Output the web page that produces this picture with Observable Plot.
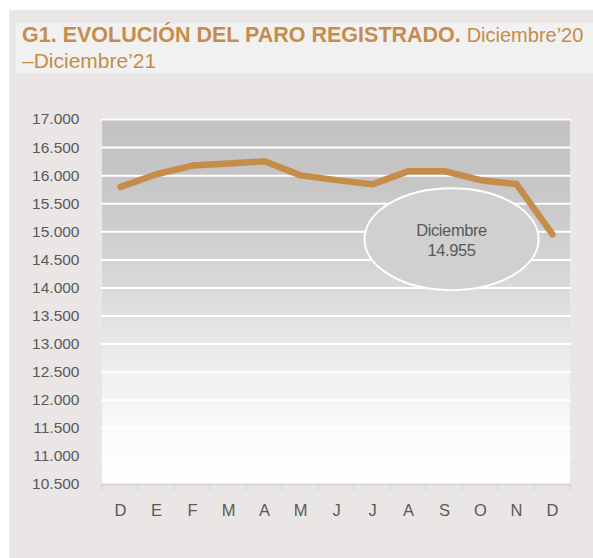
<!DOCTYPE html>
<html><head><meta charset="utf-8">
<script src="https://cdn.jsdelivr.net/npm/d3@7"></script>
<script src="https://cdn.jsdelivr.net/npm/@observablehq/plot@0.6"></script>
<style>
body{margin:0;background:#fff;width:593px;height:558px;overflow:hidden;position:relative;font-family:"Liberation Sans",Arial,sans-serif}
#panel{position:absolute;left:9px;top:10px;width:584px;height:548px;background:#ebe6e6}
#band{position:absolute;left:16px;top:23px;width:577px;height:50px;background:#f2f1f1}
#title{position:absolute;left:22px;top:22px;color:#c68c4a;font-size:21px;line-height:25px;white-space:nowrap}
#title b{font-size:21.5px}
#title .n1{font-size:20px}
#chart{position:absolute;left:0;top:95px}
</style></head>
<body>
<div id="panel"></div><div id="band"></div>
<div id="title"><b>G1. EVOLUCIÓN DEL PARO REGISTRADO.</b> <span class="n1">Diciembre’20</span><br>–Diciembre’21</div>
<div id="chart"></div>
<script>
const months = ["dic-20","ene-21","feb-21","mar-21","abr-21","may-21","jun-21","jul-21","ago-21","sep-21","oct-21","nov-21","dic-21"];
const monthLabels = ["D","E","F","M","A","M","J","J","A","S","O","N","D"];
const paro = [15800, 16025, 16180, 16215, 16255, 16005, 15920, 15845, 16080, 16080, 15920, 15850, 14955];
const yTicks = [10500,11000,11500,12000,12500,13000,13500,14000,14500,15000,15500,16000,16500,17000];
const annotLines = ["Diciembre", "14.955"];
const annotMonth = "sep-21";
const annotValue = 14860;

const data = months.map((m, i) => ({month: m, label: monthLabels[i], value: paro[i]}));
const fmt = d3.formatLocale({thousands: ".", grouping: [3], decimal: ",", currency: ["", "€"]}).format(",d");

const W = 593, H = 440, ML = 101, MR = 22, MT = 24, MB = 51;

function background(index, scales, values, dims) {
  const g = d3.create("svg:g");
  const defs = g.append("defs");
  const lg = defs.append("linearGradient").attr("id", "bgGrad").attr("x1", 0).attr("y1", 0).attr("x2", 0).attr("y2", 1);
  [[0, "#c3c3c3"], [0.15, "#c5c5c5"], [0.31, "#cecece"], [0.46, "#d9d9d9"], [0.54, "#e1e1e1"], [0.69, "#efefef"], [0.85, "#fafafa"], [1, "#ffffff"]]
    .forEach(([o, c]) => lg.append("stop").attr("offset", o).attr("stop-color", c));
  const y0 = scales.y(yTicks[yTicks.length - 1]), y1 = scales.y(yTicks[0]);
  const x0 = scales.x(months[0]);
  const step = scales.x(months[1]) - scales.x(months[0]);
  const x1 = scales.x(months[months.length - 1]) + step;
  g.append("rect").attr("x", x0).attr("y", y0).attr("width", x1 - x0).attr("height", y1 - y0).attr("fill", "url(#bgGrad)");
  return g.node();
}

function xTicks(index, scales) {
  const g = d3.create("svg:g").attr("stroke", "#d6d6d6").attr("stroke-width", 1.5);
  const step = scales.x(months[1]) - scales.x(months[0]);
  const yb = scales.y(yTicks[0]);
  const xs = months.map(m => scales.x(m)).concat([scales.x(months[months.length - 1]) + step]);
  xs.forEach(x => g.append("line").attr("x1", x).attr("x2", x).attr("y1", yb).attr("y2", yb + 6));
  return g.node();
}

function annotation(index, scales) {
  const g = d3.create("svg:g");
  const step = scales.x(months[1]) - scales.x(months[0]);
  const cx = scales.x(annotMonth) + step * 0.71;
  const cy = scales.y(annotValue);
  g.append("ellipse").attr("cx", cx).attr("cy", cy).attr("rx", 87).attr("ry", 51)
    .attr("fill", "#d0d0d0").attr("stroke", "#ffffff").attr("stroke-width", 2);
  g.append("text").attr("x", cx).attr("y", cy - 3).attr("text-anchor", "middle")
    .attr("fill", "#595959").attr("font-size", 16.5).attr("letter-spacing", "-0.4px").text(annotLines[0]);
  g.append("text").attr("x", cx).attr("y", cy + 17).attr("text-anchor", "middle")
    .attr("fill", "#595959").attr("font-size", 16.5).attr("letter-spacing", "-0.4px").text(annotLines[1]);
  return g.node();
}

const chart = Plot.plot({
  width: W, height: H,
  marginLeft: ML, marginRight: MR, marginTop: MT, marginBottom: MB,
  style: {background: "transparent", fontFamily: "'Liberation Sans', Arial, sans-serif", overflow: "visible"},
  x: {type: "band", domain: months, padding: 0, axis: null},
  y: {domain: [10500, 17000], axis: null},
  marks: [
    background,
    Plot.ruleY(yTicks.slice(1), {stroke: "#ffffff", strokeWidth: 2}),
    Plot.ruleY([yTicks[0]], {stroke: "#d6d6d6", strokeWidth: 2}),
    xTicks,
    Plot.line(data, {x: "month", y: "value", stroke: "#c68c4a", strokeWidth: 6.5, strokeLinecap: "round", strokeLinejoin: "round"}),
    annotation,
    Plot.text(yTicks, {y: d => d, text: d => fmt(d), frameAnchor: "left", textAnchor: "end", dx: -22, fontSize: 15.5, fill: "#595959", letterSpacing: "-0.8px"}),
    Plot.text(data, {x: "month", text: "label", frameAnchor: "bottom", dy: 31, fontSize: 16.5, fill: "#595959"})
  ]
});
document.getElementById("chart").appendChild(chart);
</script>
</body></html>
